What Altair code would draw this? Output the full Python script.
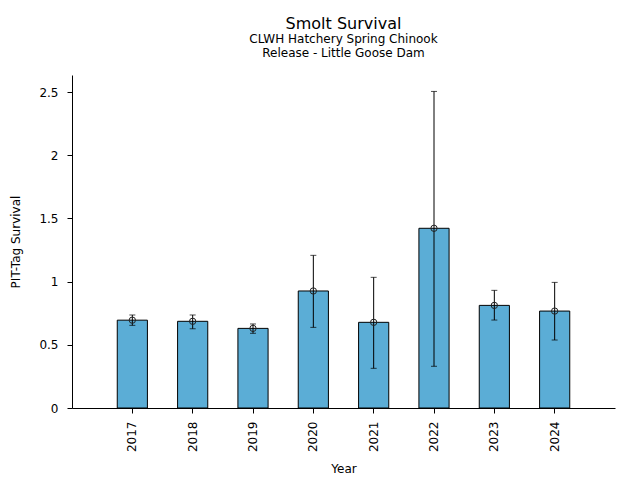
import altair as alt
import pandas as pd

years = ["2017", "2018", "2019", "2020", "2021", "2022", "2023", "2024"]
survival = [0.695, 0.686, 0.630, 0.926, 0.678, 1.422, 0.812, 0.767]
lower = [0.654, 0.627, 0.591, 0.638, 0.314, 0.330, 0.696, 0.538]
upper = [0.736, 0.736, 0.665, 1.208, 1.034, 2.505, 0.931, 0.994]

df = pd.DataFrame({"Year": years, "Survival": survival, "Lower": lower, "Upper": upper})

FONT = "DejaVu Sans"

x = alt.X("Year:N", title="Year",
          scale=alt.Scale(paddingInner=0.5, paddingOuter=0.75),
          axis=alt.Axis(labelAngle=-90, labelFontSize=12, titleFontSize=12,
                        domainColor="black", tickColor="black", labelColor="black",
                        titleColor="black", tickSize=5, labelPadding=8, titlePadding=12,
                        titleFontWeight="normal", labelFont=FONT, titleFont=FONT,
                        labelBaseline="middle", labelAlign="right"))
yscale = alt.Scale(domain=[0, 2.635], nice=False)

base = alt.Chart(df)

bars = base.mark_bar(color="#5badd6", stroke="black", strokeWidth=1).encode(
    x=x,
    y=alt.Y("Survival:Q", title="PIT-Tag Survival", scale=yscale,
            axis=alt.Axis(values=[0, 0.5, 1, 1.5, 2, 2.5], format="~g", grid=False,
                          labelFontSize=12, titleFontSize=12, domainColor="black",
                          tickColor="black", labelColor="black", titleColor="black",
                          tickSize=5, labelPadding=9, titlePadding=16,
                          titleFontWeight="normal", labelFont=FONT, titleFont=FONT)),
)

rules = base.mark_rule(color="black", strokeWidth=1).encode(
    x="Year:N",
    y=alt.Y("Lower:Q", scale=yscale),
    y2="Upper:Q",
)

caps_hi = base.mark_tick(color="black", orient="horizontal", size=6, thickness=1).encode(
    x="Year:N", y=alt.Y("Upper:Q", scale=yscale))
caps_lo = base.mark_tick(color="black", orient="horizontal", size=6, thickness=1).encode(
    x="Year:N", y=alt.Y("Lower:Q", scale=yscale))

pts = base.mark_point(shape="circle", filled=False, stroke="#222222", strokeWidth=1,
                      size=40, opacity=1).encode(
    x="Year:N", y=alt.Y("Survival:Q", scale=yscale))

chart = alt.layer(bars, rules, caps_hi, caps_lo, pts).properties(
    width=543, height=333,
    title=alt.TitleParams(
        text="Smolt Survival",
        subtitle=["CLWH Hatchery Spring Chinook", "Release - Little Goose Dam"],
        fontSize=16, subtitleFontSize=12, font=FONT, subtitleFont=FONT,
        fontWeight="normal", color="black", subtitleColor="black",
        anchor="middle", offset=16, subtitlePadding=2, subtitleLineHeight=14,
    ),
    autosize=alt.AutoSizeParams(type="none"),
    padding={"left": 64, "top": 67, "right": 17, "bottom": 70},
).configure(font=FONT).configure_view(strokeWidth=0, stroke="transparent")

chart.save("out.html", embed_options={"renderer": "svg", "actions": False})
